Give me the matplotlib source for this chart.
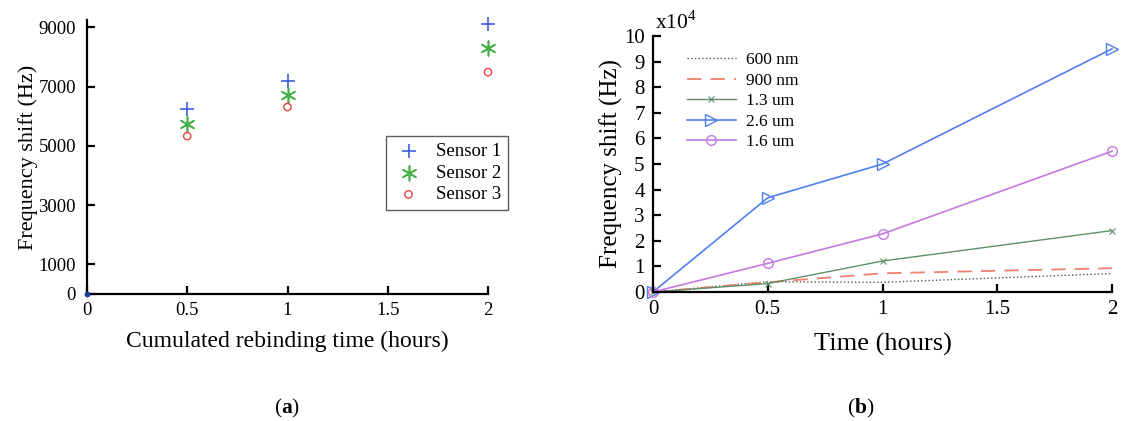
import matplotlib
matplotlib.use("Agg")
import matplotlib.pyplot as plt

plt.rcParams['font.family'] = ['Liberation Serif', 'DejaVu Serif']
plt.rcParams['mathtext.fontset'] = 'custom'
plt.rcParams['mathtext.rm'] = 'Liberation Serif'
plt.rcParams['mathtext.bf'] = 'Liberation Serif:bold'

# ---- data panel (a)
time_a = [0.5, 1.0, 2.0]
sensor1 = [6250, 7190, 9100]
sensor2 = [5740, 6720, 8310]
sensor3 = [5330, 6310, 7490]
origin_x = [0]
origin_y = [0]
yticks_a = [0, 1000, 3000, 5000, 7000, 9000]
xticks = [0, 0.5, 1, 1.5, 2]
xticklabels = ['0', '0.5', '1', '1.5', '2']

# ---- data panel (b), values in units of 1e4 Hz
time_b = [0, 0.5, 1.0, 2.0]
nm600 = [0, 0.40, 0.38, 0.72]
nm900 = [0, 0.38, 0.73, 0.93]
um13 = [0, 0.33, 1.21, 2.40]
um26 = [0, 3.68, 5.00, 9.50]
um16 = [0, 1.12, 2.27, 5.50]
yticks_b = list(range(0, 11))

fig = plt.figure(figsize=(11.21, 4.21), dpi=100)

def style(ax, pady, padx, size):
    for s in ['top', 'right']:
        ax.spines[s].set_visible(False)
    for s in ['left', 'bottom']:
        ax.spines[s].set_linewidth(1.6)
    ax.tick_params(direction='in', length=6, width=1.6, labelsize=size)
    ax.tick_params(axis='y', pad=pady)
    ax.tick_params(axis='x', pad=padx)

# ---- panel (a)
ax1 = fig.add_axes([87/1121, 1-294/421, (488-87)/1121, (294-20)/421])
ax1.scatter(time_a, sensor1, marker='+', s=90, color='#3a5fe0', linewidths=1.2, label='Sensor 1', clip_on=False, zorder=3)
ax1.scatter(time_a, sensor2, marker=(6, 2, 0), s=110, color='#45b045', linewidths=1.2, label='Sensor 2', clip_on=False, zorder=3)
ax1.scatter(time_a, sensor3, marker='o', s=28, facecolors='none', edgecolors='#e84040', linewidths=1.0, label='Sensor 3', clip_on=False, zorder=3)
ax1.scatter(origin_x, origin_y, marker='o', s=10, color='#1f3f9f', clip_on=False, zorder=4)
ax1.set_xlim(0, 2)
ax1.set_ylim(0, 9250)
ax1.set_xticks(xticks)
ax1.set_xticklabels(xticklabels)
ax1.set_yticks(yticks_a)
style(ax1, 8, 6, 13.5)
ax1.set_xlabel('Cumulated rebinding time (hours)', fontsize=17, labelpad=8.5)
ax1.set_ylabel('Frequency shift (Hz)', fontsize=16, labelpad=0)
leg1 = ax1.legend(loc='upper left', bbox_to_anchor=(386/1121, 1-136/421), bbox_transform=fig.transFigure,
                  fontsize=13.5, frameon=True, fancybox=False, edgecolor='#333333', handletextpad=0.6,
                  borderpad=0.35, labelspacing=0.25, handlelength=1.7, scatterpoints=1, borderaxespad=0)
leg1.get_frame().set_linewidth(1.0)

# ---- panel (b)
ax2 = fig.add_axes([653/1121, 1-292/421, (1112-653)/1121, (292-36)/421])
ax2.plot(time_b, nm600, linestyle=':', color='#555555', linewidth=1.0, label='600 nm', clip_on=False)
ax2.plot(time_b, nm900, linestyle=(0, (8, 5)), color='#f08070', linewidth=1.3, label='900 nm', clip_on=False)
ax2.plot(time_b, um13, linestyle='-', color='#5f8f6a', linewidth=1.0, marker='x', markersize=5,
         markeredgewidth=0.8, label='1.3 um', clip_on=False)
ax2.plot(time_b, um26, linestyle='-', color='#4f7ff0', linewidth=1.2, marker='>', markersize=8,
         markerfacecolor='none', markeredgewidth=1.0, label='2.6 um', clip_on=False)
ax2.plot(time_b, um16, linestyle='-', color='#c478e0', linewidth=1.2, marker='o', markersize=7,
         markerfacecolor='none', markeredgewidth=1.0, label='1.6 um', clip_on=False)
ax2.set_xlim(0, 2)
ax2.set_ylim(0, 10)
ax2.set_xticks(xticks)
ax2.set_xticklabels(xticklabels)
ax2.set_yticks(yticks_b)
style(ax2, 6, 6, 15)
ax2.set_xlabel('Time (hours)', fontsize=19, labelpad=10)
ax2.set_ylabel('Frequency shift (Hz)', fontsize=18, labelpad=1)
ax2.text(655/1121, 1-22/421, r'x10$^4$', transform=fig.transFigure, fontsize=15.5, ha='left', va='center')
leg2 = ax2.legend(loc='upper left', bbox_to_anchor=(680/1121, 1-45/421), bbox_transform=fig.transFigure,
                  fontsize=12.5, frameon=False, handletextpad=0.6, borderpad=0.2, labelspacing=0.25,
                  handlelength=2.8, borderaxespad=0.2)

# ---- panel labels
fig.text(287/1121, 1-408/421, r'($\mathbf{a}$)', fontsize=15.5, ha='center', va='center')
fig.text(861/1121, 1-408/421, r'($\mathbf{b}$)', fontsize=15.5, ha='center', va='center')

fig.savefig('out.png', dpi=100)
